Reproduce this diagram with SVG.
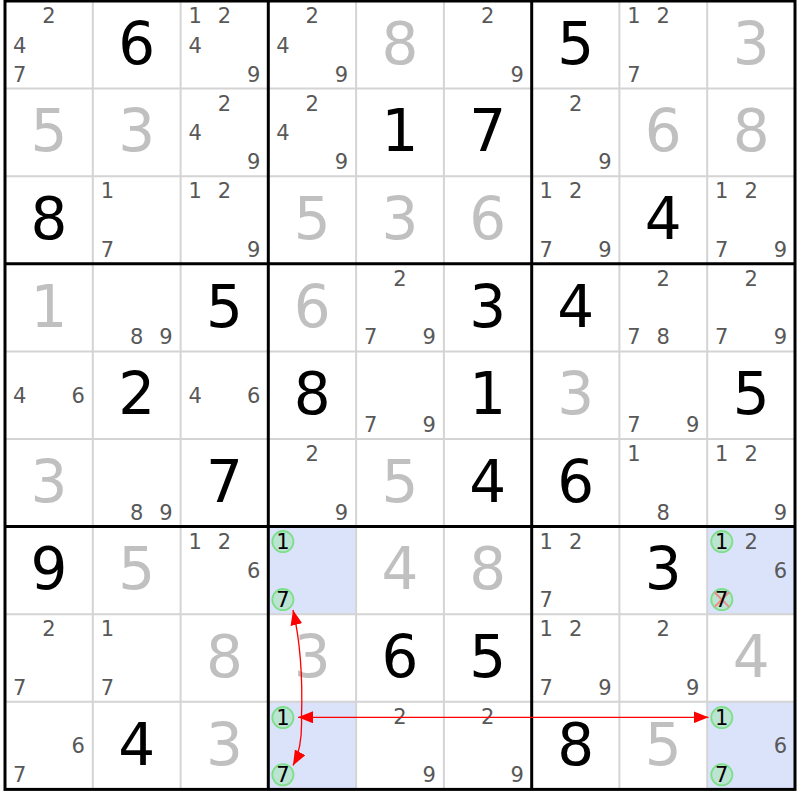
<svg xmlns="http://www.w3.org/2000/svg" width="800" height="800" viewBox="0 0 800 800">
<style>
text{font-family:"DejaVu Sans",Verdana,sans-serif;text-anchor:middle}
.g{font-size:58px;fill:#000}
.s{font-size:58px;fill:#c0c0c0}
.c{font-size:21px;fill:#585858}
.k{font-size:21px;fill:#000}
.hl{fill:#dbe3fb}
.ring{fill:#bce4d2;stroke:#7edf8a;stroke-width:1.8}
.thin{stroke:#d4d4d4;stroke-width:2}
.thick{stroke:#000;stroke-width:3}
.x{stroke:#f08c8c;stroke-width:2}
.lk{fill:none;stroke:#ff0000;stroke-width:1.3}
</style>
<defs>
<marker id="ah" viewBox="0 0 15 12" refX="15" refY="6" markerWidth="15" markerHeight="12" markerUnits="userSpaceOnUse" orient="auto-start-reverse"><path d="M0,0 L15,6 L0,12 z" fill="#ff0000"/></marker>
</defs>
<rect width="800" height="800" fill="#fff"/>
<g id="highlights">
<rect class="hl" x="268.3" y="526.6" width="87.8" height="87.6"/>
<rect class="hl" x="268.3" y="701.8" width="87.8" height="87.6"/>
<rect class="hl" x="707.2" y="526.6" width="87.8" height="87.6"/>
<rect class="hl" x="707.2" y="701.8" width="87.8" height="87.6"/>
</g>
<g id="grid">
<path class="thin" d="M92.8 1V789.4M180.6 1V789.4M356.1 1V789.4M443.9 1V789.4M619.4 1V789.4M707.2 1V789.4M5 88.6H795M5 176.2H795M5 351.4H795M5 439H795M5 614.2H795M5 701.8H795"/>
<path class="thick" d="M268.3 1V789.4M531.7 1V789.4M5 263.8H795M5 526.6H795"/>
<rect class="thick" x="5" y="1" width="790" height="788.4" fill="none"/>
</g>
<g id="cells">
<!-- row 0 -->
<g id="r1c1" transform="translate(5,1)"><text class="c" x="43.9" y="22.3">2</text><text class="c" x="14.6" y="51.5">4</text><text class="c" x="14.6" y="80.7">7</text></g>
<g id="r1c2" transform="translate(92.8,1)"><text class="g" x="43.9" y="62.8">6</text></g>
<g id="r1c3" transform="translate(180.6,1)"><text class="c" x="14.6" y="22.3">1</text><text class="c" x="43.9" y="22.3">2</text><text class="c" x="14.6" y="51.5">4</text><text class="c" x="73.2" y="80.7">9</text></g>
<g id="r1c4" transform="translate(268.3,1)"><text class="c" x="43.9" y="22.3">2</text><text class="c" x="14.6" y="51.5">4</text><text class="c" x="73.2" y="80.7">9</text></g>
<g id="r1c5" transform="translate(356.1,1)"><text class="s" x="43.9" y="62.8">8</text></g>
<g id="r1c6" transform="translate(443.9,1)"><text class="c" x="43.9" y="22.3">2</text><text class="c" x="73.2" y="80.7">9</text></g>
<g id="r1c7" transform="translate(531.7,1)"><text class="g" x="43.9" y="62.8">5</text></g>
<g id="r1c8" transform="translate(619.4,1)"><text class="c" x="14.6" y="22.3">1</text><text class="c" x="43.9" y="22.3">2</text><text class="c" x="14.6" y="80.7">7</text></g>
<g id="r1c9" transform="translate(707.2,1)"><text class="s" x="43.9" y="62.8">3</text></g>
<!-- row 1 -->
<g id="r2c1" transform="translate(5,88.6)"><text class="s" x="43.9" y="62.8">5</text></g>
<g id="r2c2" transform="translate(92.8,88.6)"><text class="s" x="43.9" y="62.8">3</text></g>
<g id="r2c3" transform="translate(180.6,88.6)"><text class="c" x="43.9" y="22.3">2</text><text class="c" x="14.6" y="51.5">4</text><text class="c" x="73.2" y="80.7">9</text></g>
<g id="r2c4" transform="translate(268.3,88.6)"><text class="c" x="43.9" y="22.3">2</text><text class="c" x="14.6" y="51.5">4</text><text class="c" x="73.2" y="80.7">9</text></g>
<g id="r2c5" transform="translate(356.1,88.6)"><text class="g" x="43.9" y="62.8">1</text></g>
<g id="r2c6" transform="translate(443.9,88.6)"><text class="g" x="43.9" y="62.8">7</text></g>
<g id="r2c7" transform="translate(531.7,88.6)"><text class="c" x="43.9" y="22.3">2</text><text class="c" x="73.2" y="80.7">9</text></g>
<g id="r2c8" transform="translate(619.4,88.6)"><text class="s" x="43.9" y="62.8">6</text></g>
<g id="r2c9" transform="translate(707.2,88.6)"><text class="s" x="43.9" y="62.8">8</text></g>
<!-- row 2 -->
<g id="r3c1" transform="translate(5,176.2)"><text class="g" x="43.9" y="62.8">8</text></g>
<g id="r3c2" transform="translate(92.8,176.2)"><text class="c" x="14.6" y="22.3">1</text><text class="c" x="14.6" y="80.7">7</text></g>
<g id="r3c3" transform="translate(180.6,176.2)"><text class="c" x="14.6" y="22.3">1</text><text class="c" x="43.9" y="22.3">2</text><text class="c" x="73.2" y="80.7">9</text></g>
<g id="r3c4" transform="translate(268.3,176.2)"><text class="s" x="43.9" y="62.8">5</text></g>
<g id="r3c5" transform="translate(356.1,176.2)"><text class="s" x="43.9" y="62.8">3</text></g>
<g id="r3c6" transform="translate(443.9,176.2)"><text class="s" x="43.9" y="62.8">6</text></g>
<g id="r3c7" transform="translate(531.7,176.2)"><text class="c" x="14.6" y="22.3">1</text><text class="c" x="43.9" y="22.3">2</text><text class="c" x="14.6" y="80.7">7</text><text class="c" x="73.2" y="80.7">9</text></g>
<g id="r3c8" transform="translate(619.4,176.2)"><text class="g" x="43.9" y="62.8">4</text></g>
<g id="r3c9" transform="translate(707.2,176.2)"><text class="c" x="14.6" y="22.3">1</text><text class="c" x="43.9" y="22.3">2</text><text class="c" x="14.6" y="80.7">7</text><text class="c" x="73.2" y="80.7">9</text></g>
<!-- row 3 -->
<g id="r4c1" transform="translate(5,263.8)"><text class="s" x="43.9" y="62.8">1</text></g>
<g id="r4c2" transform="translate(92.8,263.8)"><text class="c" x="43.9" y="80.7">8</text><text class="c" x="73.2" y="80.7">9</text></g>
<g id="r4c3" transform="translate(180.6,263.8)"><text class="g" x="43.9" y="62.8">5</text></g>
<g id="r4c4" transform="translate(268.3,263.8)"><text class="s" x="43.9" y="62.8">6</text></g>
<g id="r4c5" transform="translate(356.1,263.8)"><text class="c" x="43.9" y="22.3">2</text><text class="c" x="14.6" y="80.7">7</text><text class="c" x="73.2" y="80.7">9</text></g>
<g id="r4c6" transform="translate(443.9,263.8)"><text class="g" x="43.9" y="62.8">3</text></g>
<g id="r4c7" transform="translate(531.7,263.8)"><text class="g" x="43.9" y="62.8">4</text></g>
<g id="r4c8" transform="translate(619.4,263.8)"><text class="c" x="43.9" y="22.3">2</text><text class="c" x="14.6" y="80.7">7</text><text class="c" x="43.9" y="80.7">8</text></g>
<g id="r4c9" transform="translate(707.2,263.8)"><text class="c" x="43.9" y="22.3">2</text><text class="c" x="14.6" y="80.7">7</text><text class="c" x="73.2" y="80.7">9</text></g>
<!-- row 4 -->
<g id="r5c1" transform="translate(5,351.4)"><text class="c" x="14.6" y="51.5">4</text><text class="c" x="73.2" y="51.5">6</text></g>
<g id="r5c2" transform="translate(92.8,351.4)"><text class="g" x="43.9" y="62.8">2</text></g>
<g id="r5c3" transform="translate(180.6,351.4)"><text class="c" x="14.6" y="51.5">4</text><text class="c" x="73.2" y="51.5">6</text></g>
<g id="r5c4" transform="translate(268.3,351.4)"><text class="g" x="43.9" y="62.8">8</text></g>
<g id="r5c5" transform="translate(356.1,351.4)"><text class="c" x="14.6" y="80.7">7</text><text class="c" x="73.2" y="80.7">9</text></g>
<g id="r5c6" transform="translate(443.9,351.4)"><text class="g" x="43.9" y="62.8">1</text></g>
<g id="r5c7" transform="translate(531.7,351.4)"><text class="s" x="43.9" y="62.8">3</text></g>
<g id="r5c8" transform="translate(619.4,351.4)"><text class="c" x="14.6" y="80.7">7</text><text class="c" x="73.2" y="80.7">9</text></g>
<g id="r5c9" transform="translate(707.2,351.4)"><text class="g" x="43.9" y="62.8">5</text></g>
<!-- row 5 -->
<g id="r6c1" transform="translate(5,439)"><text class="s" x="43.9" y="62.8">3</text></g>
<g id="r6c2" transform="translate(92.8,439)"><text class="c" x="43.9" y="80.7">8</text><text class="c" x="73.2" y="80.7">9</text></g>
<g id="r6c3" transform="translate(180.6,439)"><text class="g" x="43.9" y="62.8">7</text></g>
<g id="r6c4" transform="translate(268.3,439)"><text class="c" x="43.9" y="22.3">2</text><text class="c" x="73.2" y="80.7">9</text></g>
<g id="r6c5" transform="translate(356.1,439)"><text class="s" x="43.9" y="62.8">5</text></g>
<g id="r6c6" transform="translate(443.9,439)"><text class="g" x="43.9" y="62.8">4</text></g>
<g id="r6c7" transform="translate(531.7,439)"><text class="g" x="43.9" y="62.8">6</text></g>
<g id="r6c8" transform="translate(619.4,439)"><text class="c" x="14.6" y="22.3">1</text><text class="c" x="43.9" y="80.7">8</text></g>
<g id="r6c9" transform="translate(707.2,439)"><text class="c" x="14.6" y="22.3">1</text><text class="c" x="43.9" y="22.3">2</text><text class="c" x="73.2" y="80.7">9</text></g>
<!-- row 6 -->
<g id="r7c1" transform="translate(5,526.6)"><text class="g" x="43.9" y="62.8">9</text></g>
<g id="r7c2" transform="translate(92.8,526.6)"><text class="s" x="43.9" y="62.8">5</text></g>
<g id="r7c3" transform="translate(180.6,526.6)"><text class="c" x="14.6" y="22.3">1</text><text class="c" x="43.9" y="22.3">2</text><text class="c" x="73.2" y="51.5">6</text></g>
<g id="r7c4" transform="translate(268.3,526.6)"><circle class="ring" cx="14.6" cy="15" r="10.6"/><text class="k" x="14.6" y="22.6">1</text><circle class="ring" cx="14.6" cy="73" r="10.6"/><text class="k" x="14.6" y="80.6">7</text></g>
<g id="r7c5" transform="translate(356.1,526.6)"><text class="s" x="43.9" y="62.8">4</text></g>
<g id="r7c6" transform="translate(443.9,526.6)"><text class="s" x="43.9" y="62.8">8</text></g>
<g id="r7c7" transform="translate(531.7,526.6)"><text class="c" x="14.6" y="22.3">1</text><text class="c" x="43.9" y="22.3">2</text><text class="c" x="14.6" y="80.7">7</text></g>
<g id="r7c8" transform="translate(619.4,526.6)"><text class="g" x="43.9" y="62.8">3</text></g>
<g id="r7c9" transform="translate(707.2,526.6)"><circle class="ring" cx="14.6" cy="15" r="10.6"/><text class="k" x="14.6" y="22.6">1</text><text class="c" x="43.9" y="22.3">2</text><text class="c" x="73.2" y="51.5">6</text><circle class="ring" cx="14.6" cy="73" r="10.6"/><path class="x" d="M7.3 65.7L21.9 80.3M21.9 65.7L7.3 80.3"/><text class="k" x="14.6" y="80.6">7</text></g>
<!-- row 7 -->
<g id="r8c1" transform="translate(5,614.2)"><text class="c" x="43.9" y="22.3">2</text><text class="c" x="14.6" y="80.7">7</text></g>
<g id="r8c2" transform="translate(92.8,614.2)"><text class="c" x="14.6" y="22.3">1</text><text class="c" x="14.6" y="80.7">7</text></g>
<g id="r8c3" transform="translate(180.6,614.2)"><text class="s" x="43.9" y="62.8">8</text></g>
<g id="r8c4" transform="translate(268.3,614.2)"><text class="s" x="43.9" y="62.8">3</text></g>
<g id="r8c5" transform="translate(356.1,614.2)"><text class="g" x="43.9" y="62.8">6</text></g>
<g id="r8c6" transform="translate(443.9,614.2)"><text class="g" x="43.9" y="62.8">5</text></g>
<g id="r8c7" transform="translate(531.7,614.2)"><text class="c" x="14.6" y="22.3">1</text><text class="c" x="43.9" y="22.3">2</text><text class="c" x="14.6" y="80.7">7</text><text class="c" x="73.2" y="80.7">9</text></g>
<g id="r8c8" transform="translate(619.4,614.2)"><text class="c" x="43.9" y="22.3">2</text><text class="c" x="73.2" y="80.7">9</text></g>
<g id="r8c9" transform="translate(707.2,614.2)"><text class="s" x="43.9" y="62.8">4</text></g>
<!-- row 8 -->
<g id="r9c1" transform="translate(5,701.8)"><text class="c" x="73.2" y="51.5">6</text><text class="c" x="14.6" y="80.7">7</text></g>
<g id="r9c2" transform="translate(92.8,701.8)"><text class="g" x="43.9" y="62.8">4</text></g>
<g id="r9c3" transform="translate(180.6,701.8)"><text class="s" x="43.9" y="62.8">3</text></g>
<g id="r9c4" transform="translate(268.3,701.8)"><circle class="ring" cx="14.6" cy="15.8" r="10.6"/><text class="k" x="14.6" y="23.4">1</text><circle class="ring" cx="14.6" cy="73" r="10.6"/><text class="k" x="14.6" y="80.6">7</text></g>
<g id="r9c5" transform="translate(356.1,701.8)"><text class="c" x="43.9" y="22.3">2</text><text class="c" x="73.2" y="80.7">9</text></g>
<g id="r9c6" transform="translate(443.9,701.8)"><text class="c" x="43.9" y="22.3">2</text><text class="c" x="73.2" y="80.7">9</text></g>
<g id="r9c7" transform="translate(531.7,701.8)"><text class="g" x="43.9" y="62.8">8</text></g>
<g id="r9c8" transform="translate(619.4,701.8)"><text class="s" x="43.9" y="62.8">5</text></g>
<g id="r9c9" transform="translate(707.2,701.8)"><circle class="ring" cx="14.6" cy="15.8" r="10.6"/><text class="k" x="14.6" y="23.4">1</text><text class="c" x="73.2" y="51.5">6</text><circle class="ring" cx="14.6" cy="73" r="10.6"/><text class="k" x="14.6" y="80.6">7</text></g>
</g>
<g id="links">
<path class="lk" d="M298 717.3H708.5" marker-start="url(#ah)" marker-end="url(#ah)"/>
<path class="lk" d="M301.5 717Q303.5 655 293 610" marker-end="url(#ah)"/>
<path class="lk" d="M301.5 717Q302.5 748 293 765.5" marker-end="url(#ah)"/>
</g>
</svg>
